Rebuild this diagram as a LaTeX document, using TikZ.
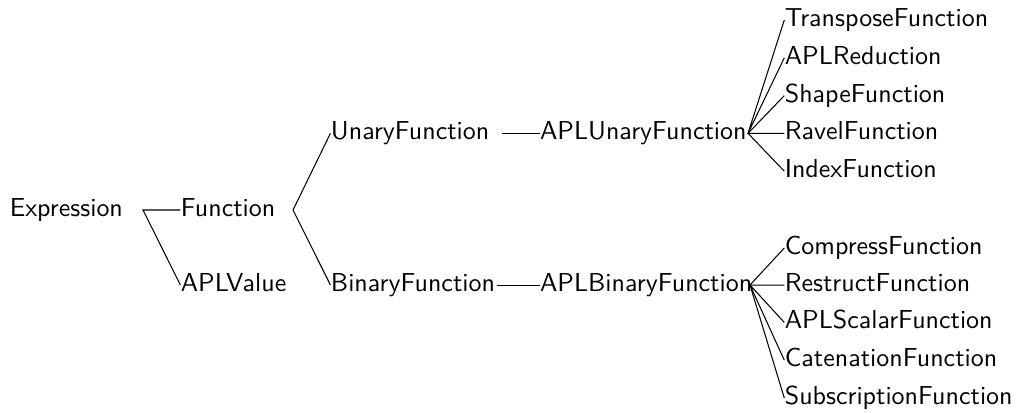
\documentclass[tikz,border=0pt]{standalone}
\begin{document}
\begin{tikzpicture}[anchor=west, font=\sffamily, every node/.style={inner sep=0pt, text height=7pt, text depth=2pt}]
\useasboundingbox (0,0) rectangle (13.907,5.574);
\node at (0.125,2.733) (expr) {Expression};
\node at (2.44,2.733) (func) {Function};
\node at (2.44,1.718) (val) {APLValue};
\coordinate (e0) at (1.935,2.733);
\draw (func.west) -- (e0) -- (val.west);

\node at (4.47,3.770) (unary) {UnaryFunction};
\node at (4.47,1.718) (binary) {BinaryFunction};
\coordinate (e1) at (3.964,2.733);
\draw (unary.west) -- (e1) -- (binary.west);

\node at (7.30,3.770) (aplunary) {APLUnaryFunction}; \coordinate (e2) at (6.787,3.770);
\draw (e2) -- (aplunary.west);
\node at (7.30,1.718) (aplbinary) {APLBinaryFunction}; \coordinate (e3) at (6.719,1.718);
\draw (e3) -- (aplbinary.west);

% unary leaves
\coordinate (e4) at (10.119,3.770);
\node at (10.61,5.303) (transp) {TransposeFunction};
\node at (10.61,4.792) (reduct) {APLReduction};
\node at (10.61,4.280) (shape) {ShapeFunction};
\node at (10.61,3.770) (ravel) {RavelFunction};
\node at (10.61,3.258) (index) {IndexFunction};
\draw (transp.west) -- (e4) -- (reduct.west);
\draw (shape.west) -- (e4) -- (ravel.west);
\draw (e4) -- (index.west);

% binary leaves
\coordinate (e5) at (10.146,1.718);
\node at (10.61,2.219) (compr) {CompressFunction};
\node at (10.61,1.718) (restr) {RestructFunction};
\node at (10.61,1.212) (scalar) {APLScalarFunction};
\node at (10.61,0.701) (caten) {CatenationFunction};
\node at (10.61,0.189) (subscr) {SubscriptionFunction};
\draw (compr.west) -- (e5) -- (restr.west);
\draw (scalar.west) -- (e5) -- (caten.west);
\draw (e5) -- (subscr.west);
\end{tikzpicture}
\end{document}
